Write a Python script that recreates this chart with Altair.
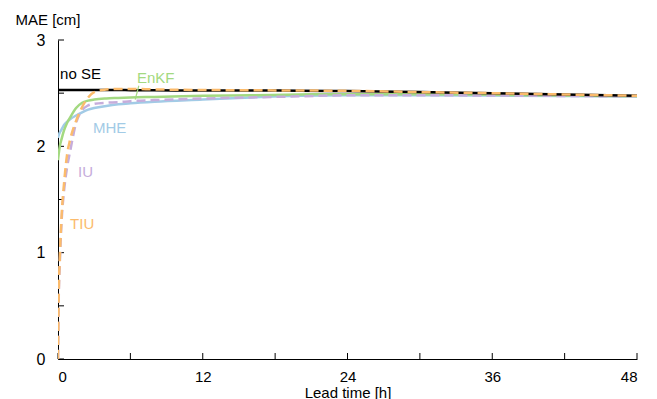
import altair as alt
import pandas as pd

t = [0, 0.05, 0.15, 0.3, 0.5, 0.75, 1, 1.5, 2, 2.5, 3, 4, 5, 6, 8, 12, 16, 20, 24, 30, 36, 42, 48]
no_se = [2.53, 2.53, 2.53, 2.53, 2.53, 2.53, 2.53, 2.53, 2.53, 2.53, 2.53, 2.53, 2.53, 2.528, 2.527, 2.525, 2.525, 2.523, 2.52, 2.51, 2.5, 2.488, 2.475]
tiu = [0, 0.55, 0.95, 1.35, 1.65, 1.92, 2.06, 2.24, 2.37, 2.46, 2.51, 2.535, 2.54, 2.54, 2.535, 2.53, 2.527, 2.525, 2.522, 2.51, 2.5, 2.488, 2.475]
iu = [0, 0.5, 0.9, 1.3, 1.58, 1.8, 1.95, 2.22, 2.34, 2.385, 2.40, 2.41, 2.415, 2.425, 2.435, 2.45, 2.46, 2.47, 2.48, 2.48, 2.478, 2.474, 2.47]
enkf = [1.87, 1.92, 2.0, 2.07, 2.15, 2.22, 2.27, 2.36, 2.41, 2.43, 2.44, 2.45, 2.455, 2.46, 2.465, 2.475, 2.48, 2.488, 2.49, 2.49, 2.485, 2.478, 2.472]
mhe = [2.08, 2.1, 2.13, 2.16, 2.2, 2.23, 2.255, 2.29, 2.32, 2.345, 2.36, 2.38, 2.395, 2.405, 2.42, 2.44, 2.46, 2.475, 2.48, 2.48, 2.477, 2.473, 2.468]

series = ["no SE", "EnKF", "MHE", "IU", "TIU"]
colors = ["#000000", "#a3d981", "#a2cbe6", "#c6addb", "#fbbb6c"]
dashed = [False, False, False, True, True]
values = [no_se, enkf, mhe, iu, tiu]

# label anchor points (lead time, MAE)
label_t = [0.17, 6.55, 2.9, 1.66, 1.0]
label_v = [2.633, 2.596, 2.125, 1.71, 1.22]

x_ticks = [0, 6, 12, 18, 24, 30, 36, 42, 48]
y_ticks = [0, 0.5, 1, 1.5, 2, 2.5, 3]

FONT = "Liberation Sans, Arial, sans-serif"

xs = alt.Scale(domain=[0, 48], nice=False)
ys = alt.Scale(domain=[0, 3], nice=False)

base_axes = alt.Chart(pd.DataFrame({"t": [0], "v": [0]})).mark_point(opacity=0).encode(
    x=alt.X("t:Q", scale=xs, axis=alt.Axis(
        values=[0, 12, 24, 36, 48], format="d", title="Lead time [h]", grid=False, ticks=False,
        labelFont=FONT, labelFontSize=15, labelColor="#000", labelPadding=10,
        titleFont=FONT, titleFontSize=15, titleFontWeight="normal", titleColor="#000",
        titleBaseline="alphabetic", titleY=38, domainColor="#000", domainWidth=1)),
    y=alt.Y("v:Q", scale=ys, axis=alt.Axis(
        values=[0, 1, 2, 3], format="d", title="MAE [cm]", grid=False, ticks=False,
        labelFont=FONT, labelFontSize=16, labelColor="#000", labelPadding=13,
        titleFont=FONT, titleFontSize=15, titleFontWeight="normal", titleColor="#000",
        titleAngle=0, titleAlign="left", titleBaseline="alphabetic", titleX=-43, titleY=-16,
        domainColor="#000", domainWidth=1)),
)

xt = alt.Chart(pd.DataFrame({"t": x_ticks})).mark_rule(color="#000", strokeWidth=1).encode(
    x=alt.X("t:Q", scale=xs), y=alt.value(319), y2=alt.value(313))
yt = alt.Chart(pd.DataFrame({"v": y_ticks})).mark_rule(color="#000", strokeWidth=1).encode(
    y=alt.Y("v:Q", scale=ys), x=alt.value(0), x2=alt.value(6))

layers = [base_axes, xt, yt]
for i in [2, 1, 3, 0, 4]:
    df = pd.DataFrame({"t": t, "v": values[i]})
    kw = dict(color=colors[i], strokeWidth=2.5, interpolate="monotone", clip=True)
    if dashed[i]:
        kw["strokeDash"] = [9, 5]
    layers.append(alt.Chart(df).mark_line(**kw).encode(
        x=alt.X("t:Q", scale=xs), y=alt.Y("v:Q", scale=ys)))

for i in range(5):
    df = pd.DataFrame({"t": [label_t[i]], "v": [label_v[i]], "s": [series[i]]})
    layers.append(alt.Chart(df).mark_text(
        align="left", baseline="alphabetic", font=FONT, fontSize=15, color=colors[i]).encode(
        x=alt.X("t:Q", scale=xs), y=alt.Y("v:Q", scale=ys), text="s:N"))

# EnKF leader line
leader = pd.DataFrame({"t": [6.7], "t2": [6.4], "v": [2.57], "v2": [2.44]})
layers.append(alt.Chart(leader).mark_rule(color=colors[1], strokeWidth=1.2).encode(
    x=alt.X("t:Q", scale=xs), x2="t2:Q", y=alt.Y("v:Q", scale=ys), y2="v2:Q"))

chart = alt.layer(*layers).properties(
    width=579, height=319,
    background="white",
    autosize=alt.AutoSizeParams(type="none"),
    padding={"left": 50, "top": 32, "right": 12, "bottom": 40},
).configure_view(stroke=None, strokeWidth=0)

chart.save("out.html", embed_options={"renderer": "svg", "actions": False})
